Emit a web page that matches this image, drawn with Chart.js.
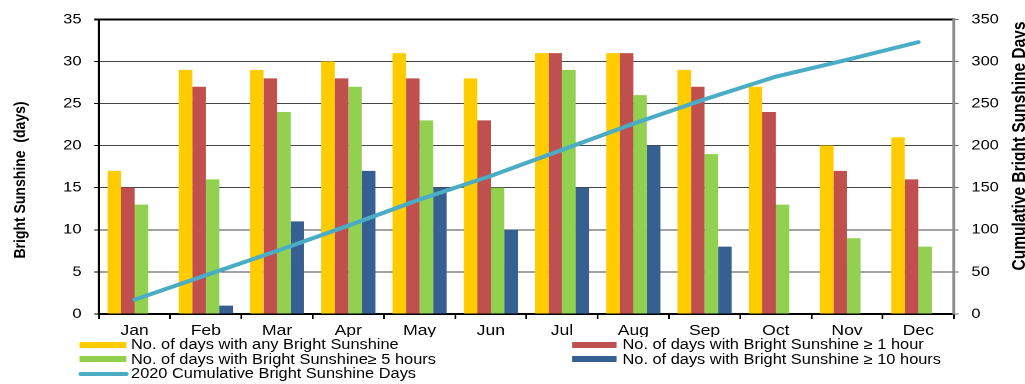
<!DOCTYPE html>
<html>
<head>
<meta charset="utf-8">
<script src="https://cdn.jsdelivr.net/npm/chart.js@4.4.0/dist/chart.umd.min.js"></script>
<style>
  html, body { margin: 0; padding: 0; background: #fff; overflow: hidden; }
  /* the whole figure is laid out narrow and widened horizontally */
  #stage { position: absolute; left: 0; top: 0; width: 876px; height: 384px;
           transform: scaleX(1.17); transform-origin: 0 0; }
  #wrap { position: absolute; left: 0; top: 0; width: 876px; height: 384px; }
  #legend { position: absolute; left: 0; top: 337px; width: 876px; height: 47px; background: #fff;
            font: 14px "Liberation Sans", Arial, sans-serif; color: #000; }
  .item { position: absolute; height: 15px; line-height: 15px; white-space: nowrap; }
  .sw { position: absolute; left: 0; top: 4.5px; height: 6px; }
  .sw.line { top: 5.5px; height: 4px; border-radius: 2px; }
</style>
</head>
<body>
<div id="stage">
  <div id="wrap"><canvas id="chart"></canvas></div>
  <div id="legend"></div>
</div>
<script>
// Monthly bright sunshine, 2020
const months = ['Jan', 'Feb', 'Mar', 'Apr', 'May', 'Jun', 'Jul', 'Aug', 'Sep', 'Oct', 'Nov', 'Dec'];
const anySunshine = [17, 29, 29, 30, 31, 28, 31, 31, 29, 27, 20, 21];
const oneHourPlus = [15, 27, 28, 28, 28, 23, 31, 31, 27, 24, 17, 16];
const fiveHoursPlus = [13, 16, 24, 27, 23, 15, 29, 26, 19, 13, 9, 8];
const tenHoursPlus = [0, 1, 11, 17, 15, 10, 15, 20, 8, 0, 0, 0];
const cumulativeDays = [17, 46, 75, 105, 136, 164, 195, 226, 255, 282, 302, 323];

const leftTicks = [0, 5, 10, 15, 20, 25, 30, 35];
const rightTicks = [0, 50, 100, 150, 200, 250, 300, 350];

const leftTitle = 'Bright Sunshine  (days)';
const rightTitle = 'Cumulative Bright Sunshine Days';

const FONT = '"Liberation Sans", Arial, sans-serif';

const seriesStyle = [
  { label: 'No. of days with any Bright Sunshine', color: '#FFCC00' },
  { label: 'No. of days with Bright Sunshine \u2265 1 hour', color: '#C0504D' },
  { label: 'No. of days with Bright Sunshine\u2265 5 hours', color: '#92D050' },
  { label: 'No. of days with Bright Sunshine \u2265 10 hours', color: '#366092' },
  { label: '2020 Cumulative Bright Sunshine Days', color: '#4BACC6' }
];

const barValues = [anySunshine, oneHourPlus, fiveHoursPlus, tenHoursPlus];

const datasets = barValues.map((vals, i) => ({
  type: 'bar',
  label: seriesStyle[i].label,
  data: vals,
  backgroundColor: seriesStyle[i].color,
  borderWidth: 0,
  categoryPercentage: 0.76,
  barPercentage: 1.0,
  yAxisID: 'y',
  order: 1
}));

datasets.push({
  type: 'line',
  label: seriesStyle[4].label,
  data: cumulativeDays,
  borderColor: seriesStyle[4].color,
  backgroundColor: seriesStyle[4].color,
  borderWidth: 4,
  borderCapStyle: 'round',
  pointRadius: 0,
  tension: 0,
  fill: false,
  yAxisID: 'y2',
  order: 0
});

// rotated axis titles
const axisTitles = {
  id: 'axisTitles',
  afterDraw(chart) {
    const ctx = chart.ctx;
    ctx.save();
    ctx.fillStyle = '#000';
    ctx.textAlign = 'center';
    ctx.textBaseline = 'alphabetic';
    ctx.font = 'bold 14px ' + FONT;
    ctx.translate(21.5, 180);
    ctx.rotate(-Math.PI / 2);
    ctx.fillText(leftTitle, 0, 0);
    ctx.restore();

    ctx.save();
    ctx.fillStyle = '#000';
    ctx.textAlign = 'center';
    ctx.textBaseline = 'alphabetic';
    ctx.font = 'bold 15.5px ' + FONT;
    ctx.translate(876, 146);
    ctx.rotate(-Math.PI / 2);
    ctx.fillText(rightTitle, 0, 0);
    ctx.restore();
  }
};

new Chart(document.getElementById('chart'), {
  data: { labels: months, datasets },
  options: {
    responsive: true,
    maintainAspectRatio: false,
    animation: false,
    devicePixelRatio: 2,
    layout: { padding: { top: 17, left: 0, right: 0, bottom: 0 } },
    plugins: { legend: { display: false }, tooltip: { enabled: false } },
    scales: {
      x: {
        offset: true,
        grid: { offset: true, drawOnChartArea: false, drawTicks: true, tickLength: 5, tickColor: '#000', lineWidth: 1.5 },
        border: { display: true, color: '#000', width: 2 },
        ticks: { font: { family: FONT, size: 15 }, color: '#000', padding: 3, maxRotation: 0, autoSkip: false },
        afterFit(s) { s.height = 70; }
      },
      y: {
        position: 'left',
        min: 0, max: 35,
        afterBuildTicks(s) { s.ticks = leftTicks.map(v => ({ value: v })); },
        ticks: { font: { family: FONT, size: 14 }, color: '#000', padding: 11 },
        grid: {
          color: c => (c.tick && c.tick.value === 35) ? '#000' : '#444',
          lineWidth: c => (c.tick && c.tick.value === 35) ? 2 : 1,
          tickColor: '#000',
          tickLength: 4
        },
        border: { color: '#000', width: 2 },
        afterFit(s) { s.width = 84.6; }
      },
      y2: {
        position: 'right',
        min: 0, max: 350,
        afterBuildTicks(s) { s.ticks = rightTicks.map(v => ({ value: v })); },
        ticks: { font: { family: FONT, size: 14 }, color: '#000', padding: 11 },
        grid: { drawOnChartArea: false, tickColor: '#666', tickLength: 4 },
        border: { color: '#8c8c8c', width: 2.5 },
        afterFit(s) { s.width = 60.7; }
      }
    }
  },
  plugins: [axisTitles]
});

// two-column legend under the month labels
const legendSlots = [
  { left: 68, textLeft: 112, top: 0, sw: 40 },
  { left: 489, textLeft: 532, top: 0, sw: 38 },
  { left: 68, textLeft: 112, top: 14.5, sw: 40 },
  { left: 489, textLeft: 532, top: 14.5, sw: 38 },
  { left: 66.5, textLeft: 112, top: 29, sw: 43 }
];
const legendEl = document.getElementById('legend');
seriesStyle.forEach((s, i) => {
  const slot = legendSlots[i];
  const item = document.createElement('div');
  item.className = 'item';
  item.style.left = slot.left + 'px';
  item.style.top = slot.top + 'px';
  const sw = document.createElement('span');
  sw.className = 'sw' + (i === 4 ? ' line' : '');
  sw.style.width = slot.sw + 'px';
  sw.style.background = s.color;
  const txt = document.createElement('span');
  txt.style.paddingLeft = (slot.textLeft - slot.left) + 'px';
  txt.textContent = s.label;
  item.appendChild(sw);
  item.appendChild(txt);
  legendEl.appendChild(item);
});
</script>
</body>
</html>
